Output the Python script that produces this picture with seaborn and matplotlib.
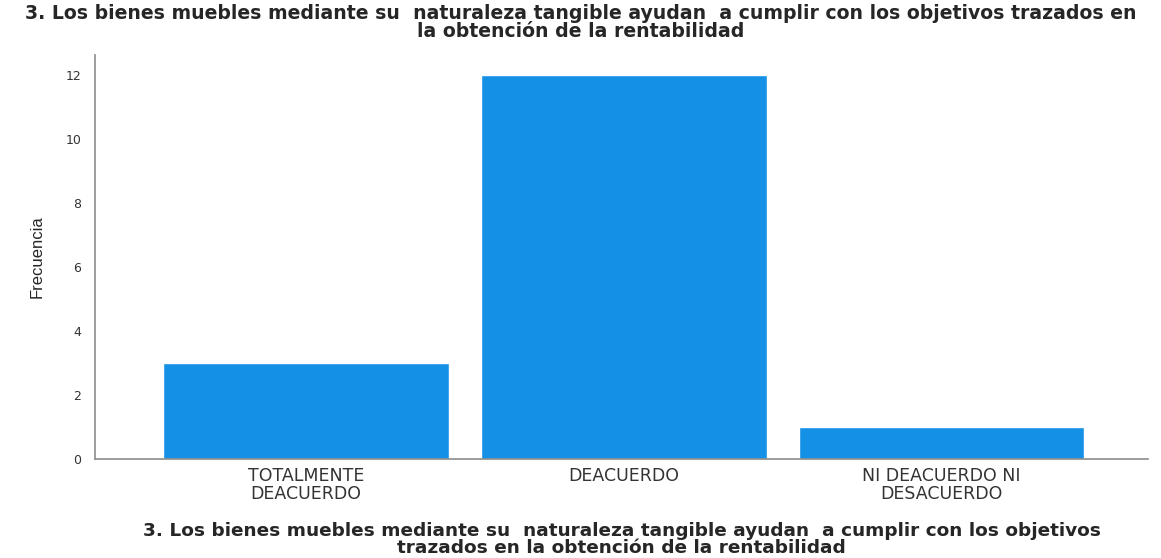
import matplotlib
matplotlib.use("Agg")
import matplotlib.pyplot as plt
import seaborn as sns
import pandas as pd

# ── Data ──────────────────────────────────────────────────────────────────────
categories = ["TOTALMENTE\nDEACUERDO", "DEACUERDO", "NI DEACUERDO NI\nDESACUERDO"]
frecuencia = [3, 12, 1]
y_ticks = [0, 2, 4, 6, 8, 10, 12]

TITLE = ("3. Los bienes muebles mediante su  naturaleza tangible ayudan  a cumplir "
         "con los objetivos trazados en\nla obtención de la rentabilidad")
XLABEL = ("3. Los bienes muebles mediante su  naturaleza tangible ayudan  a cumplir "
          "con los objetivos\ntrazados en la obtención de la rentabilidad")

BAR_COLOR = "#1490E6"
AXIS_GRAY = "#8c8c8c"

sns.set_style("white")
plt.rcParams["font.family"] = ["DejaVu Sans"]

df = pd.DataFrame({"cat": categories, "freq": frecuencia})

fig = plt.figure(figsize=(11.61, 5.58), dpi=100)
ax = fig.add_axes([0.0818, 0.1774, 0.907, 0.724])

sns.barplot(data=df, x="cat", y="freq", color=BAR_COLOR, saturation=1,
            width=0.9, ax=ax)

ax.set_xlim(-0.665, 2.65)
ax.set_ylim(0, 12.62)
ax.set_yticks(y_ticks)
ax.set_yticklabels([str(v) for v in y_ticks], fontsize=9, color="#333333")
for lbl in ax.get_xticklabels():
    lbl.set_linespacing(0.95)
ax.tick_params(axis="x", labelsize=12.5, colors="#333333", length=0, pad=6)
ax.tick_params(axis="y", length=0, pad=10)

for s in ["top", "right"]:
    ax.spines[s].set_visible(False)
for s in ["left", "bottom"]:
    ax.spines[s].set_color(AXIS_GRAY)
    ax.spines[s].set_linewidth(1.2)

ax.set_ylabel("Frecuencia", fontsize=12, labelpad=15,
              family=["Liberation Sans Narrow", "Liberation Sans"])
ax.set_xlabel(XLABEL, fontsize=13.3, fontweight="bold", labelpad=14,
              linespacing=0.95)

fig.suptitle(TITLE, fontsize=13.6, fontweight="bold", y=0.993, linespacing=0.95)

fig.savefig("out.png", dpi=100)
plt.close()
